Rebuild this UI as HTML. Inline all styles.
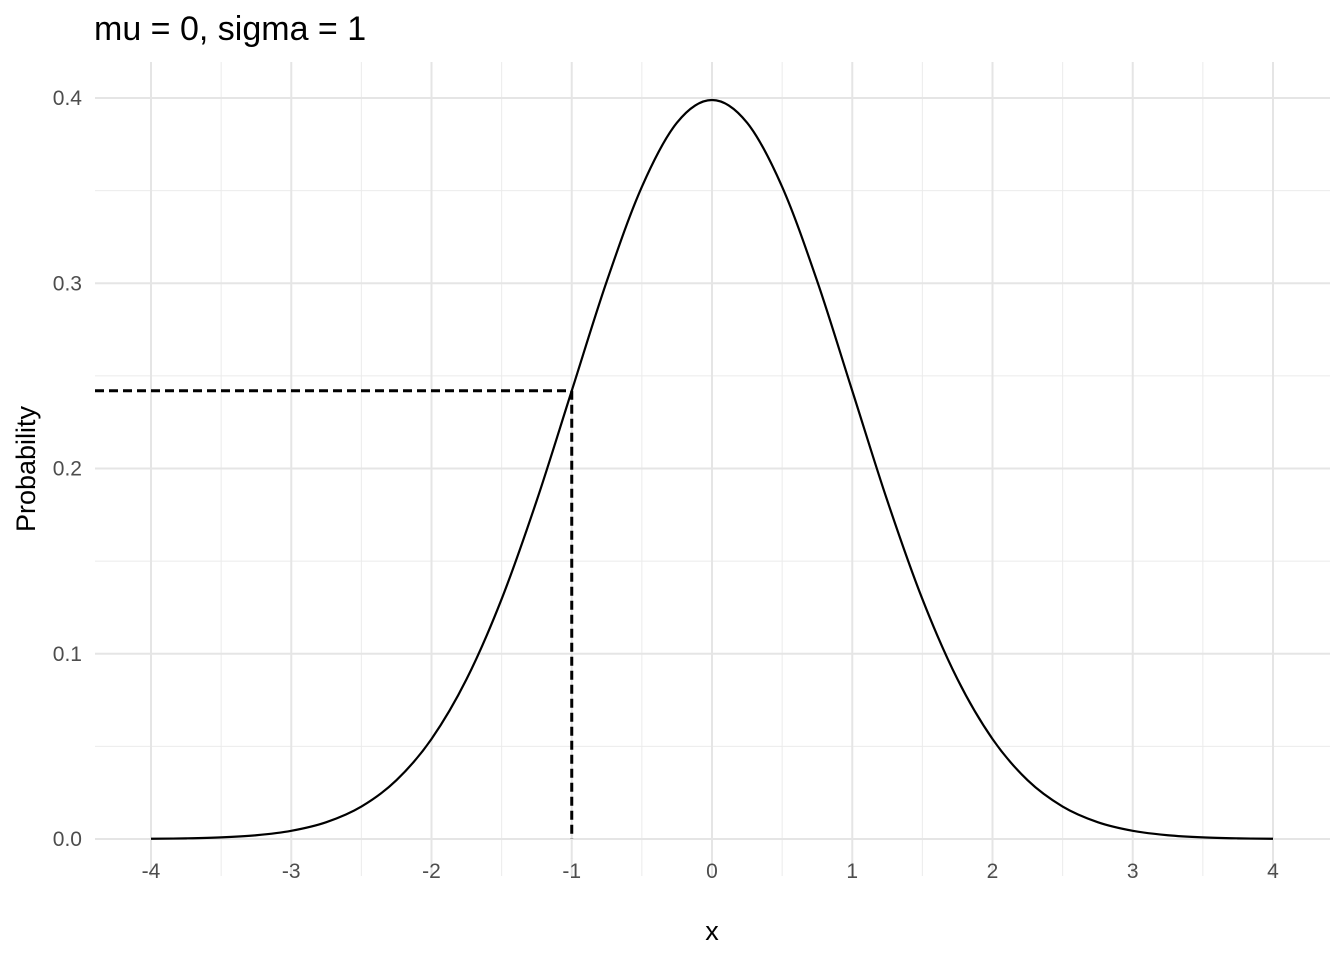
<!DOCTYPE html>
<html><head><meta charset="utf-8"><style>
body{margin:0;background:#fff;}
svg text{font-family:"Liberation Sans",sans-serif;}
</style></head><body>
<svg id="chart" width="1344" height="960" xmlns="http://www.w3.org/2000/svg">
<text x="94" y="40" font-size="34" fill="#000">mu = 0, sigma = 1</text>
<g id="grid"></g><g id="marks"></g><g id="axes"></g>
<text x="712" y="940" font-size="27" text-anchor="middle" fill="#000">x</text>
<text transform="translate(35,469) rotate(-90)" font-size="27" text-anchor="middle" fill="#000">Probability</text>
</svg>
<script>
const xValues=[-4,-3.75,-3.5,-3.25,-3,-2.75,-2.5,-2.25,-2,-1.75,-1.5,-1.25,-1,-0.75,-0.5,-0.25,0,0.25,0.5,0.75,1,1.25,1.5,1.75,2,2.25,2.5,2.75,3,3.25,3.5,3.75,4];
const densityValues=[0.00013,0.00035,0.00087,0.00203,0.00443,0.00909,0.01753,0.03174,0.05399,0.08628,0.12952,0.18265,0.24197,0.30114,0.35207,0.38667,0.39894,0.38667,0.35207,0.30114,0.24197,0.18265,0.12952,0.08628,0.05399,0.03174,0.01753,0.00909,0.00443,0.00203,0.00087,0.00035,0.00013];
const xTicks=[-4,-3,-2,-1,0,1,2,3,4];
const xTickLabels=["-4","-3","-2","-1","0","1","2","3","4"];
const yTicks=[0,0.1,0.2,0.3,0.4];
const yTickLabels=["0.0","0.1","0.2","0.3","0.4"];
const markX=[-1];
const markY=[0.242];

const NS="http://www.w3.org/2000/svg";
const sx=v=>712+v*140.25;
const sy=v=>839-v*1852.5;
const L=95,R=1330,T=62,B=876;
function mk(tag,attrs,parent){const e=document.createElementNS(NS,tag);for(const k in attrs)e.setAttribute(k,attrs[k]);parent.appendChild(e);return e;}
const grid=document.getElementById('grid'),marks=document.getElementById('marks'),axes=document.getElementById('axes');
for(let v=-4.5;v<=4.5;v+=1){const x=sx(v);if(x<L||x>R)continue;
 const l=mk('line',{x1:x,x2:x,y1:T,y2:B,stroke:'#ebebeb','stroke-width':1},grid);
 
 }
for(let v=0.05;v<0.45;v+=0.1){const y=sy(v);if(y<T)continue;
 const l=mk('line',{x1:L,x2:R,y1:y,y2:y,stroke:'#ebebeb','stroke-width':1},grid);
 
 }
xTicks.forEach((v,i)=>{const x=sx(v);
 const l=mk('line',{x1:x,x2:x,y1:T,y2:B,stroke:'#e5e5e5','stroke-width':2},grid);
 
 
 const t=mk('text',{x:x,y:878,'font-size':21,fill:'#4d4d4d','text-anchor':'middle'},axes);t.textContent=xTickLabels[i];
 
 });
yTicks.forEach((v,i)=>{const y=sy(v);
 const l=mk('line',{x1:L,x2:R,y1:y,y2:y,stroke:'#e5e5e5','stroke-width':2},grid);
 
 
 const t=mk('text',{x:82,y:y+7,'font-size':21,fill:'#4d4d4d','text-anchor':'end'},axes);t.textContent=yTickLabels[i];
 
 });
const P=xValues.map((v,i)=>[sx(v),sy(densityValues[i])]);
let d=`M${P[0][0]},${P[0][1]}`;
for(let i=0;i<P.length-1;i++){const p0=P[Math.max(0,i-1)],p1=P[i],p2=P[i+1],p3=P[Math.min(P.length-1,i+2)];
 d+=` C${p1[0]+(p2[0]-p0[0])/6},${p1[1]+(p2[1]-p0[1])/6} ${p2[0]-(p3[0]-p1[0])/6},${p2[1]-(p3[1]-p1[1])/6} ${p2[0]},${p2[1]}`;}
const c=mk('path',{d:d,fill:'none',stroke:'#000','stroke-width':2.2},marks);


const h=mk('line',{x1:L,x2:sx(markX[0]),y1:sy(markY[0]),y2:sy(markY[0]),stroke:'#000','stroke-width':3,'stroke-dasharray':'9 5'},marks);


const vl=mk('line',{x1:sx(markX[0]),x2:sx(markX[0]),y1:sy(markY[0]),y2:sy(0),stroke:'#000','stroke-width':3,'stroke-dasharray':'9 5'},marks);


</script>
</body></html>
